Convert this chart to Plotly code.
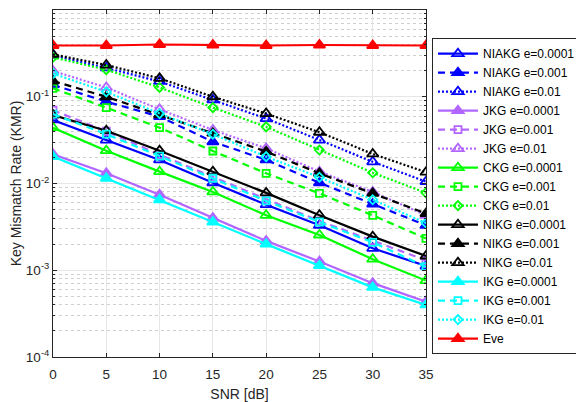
import plotly.graph_objects as go

snr = [0, 5, 10, 15, 20, 25, 30, 35]

niakg_1e4 = [0.054, 0.0317, 0.0187, 0.0102, 0.0057, 0.0033, 0.00179, 0.00112]
niakg_1e3 = [0.137, 0.088, 0.059, 0.0303, 0.0187, 0.0102, 0.0058, 0.0033]
niakg_1e2 = [0.30, 0.215, 0.150, 0.092, 0.056, 0.0317, 0.0178, 0.0105]
jkg_1e4 = [0.0217, 0.0131, 0.0074, 0.0040, 0.00218, 0.00126, 0.00071, 0.000434]
jkg_1e3 = [0.070, 0.040, 0.0215, 0.0118, 0.0066, 0.0037, 0.0022, 0.0013]
jkg_1e2 = [0.198, 0.128, 0.0716, 0.0414, 0.0254, 0.0137, 0.0080, 0.0043]
ckg_1e4 = [0.044, 0.0239, 0.0137, 0.0080, 0.0043, 0.00255, 0.00134, 0.00076]
ckg_1e3 = [0.125, 0.075, 0.044, 0.0237, 0.0131, 0.0077, 0.0043, 0.00233]
ckg_1e2 = [0.285, 0.205, 0.128, 0.075, 0.045, 0.0243, 0.0133, 0.0078]
nikg_1e4 = [0.0615, 0.0406, 0.0239, 0.0137, 0.0078, 0.0043, 0.00244, 0.00146]
nikg_1e3 = [0.152, 0.100, 0.062, 0.038, 0.0233, 0.0131, 0.0077, 0.0045]
nikg_1e2 = [0.308, 0.232, 0.163, 0.100, 0.064, 0.039, 0.0219, 0.0135]
ikg_1e4 = [0.0204, 0.0115, 0.0065, 0.0036, 0.0020, 0.00113, 0.000635, 0.000398]
ikg_1e3 = [0.063, 0.037, 0.0207, 0.0115, 0.0063, 0.0036, 0.0021, 0.0011]
ikg_1e2 = [0.185, 0.114, 0.064, 0.037, 0.0204, 0.0118, 0.0065, 0.0035]
eve = [0.39, 0.39, 0.40, 0.395, 0.39, 0.395, 0.39, 0.39]

BLUE = "#0000FF"
PURPLE = "#B266FF"
GREEN = "#00FF00"
BLACK = "#000000"
CYAN = "#00FFFF"
RED = "#FF0000"

DASH = "7px,5px"
DOT = "2px,2px"

series = [
    ("NIAKG e=0.0001", niakg_1e4, BLUE, "solid", "triangle-up-open"),
    ("NIAKG e=0.001", niakg_1e3, BLUE, DASH, "triangle-up"),
    ("NIAKG e=0.01", niakg_1e2, BLUE, DOT, "triangle-up-open"),
    ("JKG e=0.0001", jkg_1e4, PURPLE, "solid", "triangle-up"),
    ("JKG e=0.001", jkg_1e3, PURPLE, DASH, "square-open"),
    ("JKG e=0.01", jkg_1e2, PURPLE, DOT, "triangle-up-open"),
    ("CKG e=0.0001", ckg_1e4, GREEN, "solid", "triangle-up-open"),
    ("CKG e=0.001", ckg_1e3, GREEN, DASH, "square-open"),
    ("CKG e=0.01", ckg_1e2, GREEN, DOT, "diamond-open"),
    ("NIKG e=0.0001", nikg_1e4, BLACK, "solid", "triangle-up-open"),
    ("NIKG e=0.001", nikg_1e3, BLACK, DASH, "triangle-up"),
    ("NIKG e=0.01", nikg_1e2, BLACK, DOT, "triangle-up-open"),
    ("IKG e=0.0001", ikg_1e4, CYAN, "solid", "triangle-up"),
    ("IKG e=0.001", ikg_1e3, CYAN, DASH, "square-open"),
    ("IKG e=0.01", ikg_1e2, CYAN, DOT, "diamond-open"),
    ("Eve", eve, RED, "solid", "triangle-up"),
]

fig = go.Figure()
for name, vals, col, dash, sym in series:
    size = 10 if "triangle" in sym else 7
    fig.add_trace(go.Scatter(
        x=snr, y=vals, name=name, mode="lines+markers",
        line=dict(color=col, width=2.2, dash=dash),
        marker=dict(symbol=sym, size=size, color=col, line=dict(color=col, width=1.8)),
    ))

yticks = [1e-4, 1e-3, 1e-2, 1e-1, 1]
ytext = ["10<sup>-4</sup>", "10<sup>-3</sup>", "10<sup>-2</sup>", "10<sup>-1</sup>", "10<sup>0</sup>"]
minor_vals = [m * 10 ** e for e in range(-4, 0) for m in range(2, 10)]

# page body has an 8px default margin, so the figure is sized/offset to compensate
fig.update_layout(
    width=576, height=394,
    margin=dict(l=45, r=158, t=2, b=45),
    paper_bgcolor="white", plot_bgcolor="white",
    font=dict(family="Liberation Sans, Arial, sans-serif", size=13.5, color="#262626"),
    showlegend=True,
    legend=dict(
        x=1.016, y=0.919, xanchor="left", yanchor="top",
        bordercolor="#262626", borderwidth=1, bgcolor="white",
        font=dict(size=12, color="#000000"),
        itemwidth=40, tracegroupgap=0,
    ),
    xaxis=dict(
        title=dict(text="SNR [dB]", standoff=8, font=dict(size=14)),
        range=[0, 35], tickvals=snr, ticks="inside", ticklen=4,
        ticklabelstandoff=5,
        tickcolor="#262626", showline=True, linecolor="#262626", linewidth=1,
        mirror="ticks", showgrid=True, gridcolor="#E6E6E6", gridwidth=1,
        zeroline=False, automargin=False,
    ),
    yaxis=dict(
        title=dict(text="Key Mismatch Rate (KMR)", standoff=4, font=dict(size=14)),
        type="log", range=[-4, 0], tickvals=yticks, ticktext=ytext,
        ticks="inside", ticklen=4, tickcolor="#262626",
        showline=True, linecolor="#262626", linewidth=1, mirror="ticks",
        showgrid=True, gridcolor="#E6E6E6", gridwidth=1, zeroline=False,
        automargin=False,
        minor=dict(tickvals=minor_vals, showgrid=True, gridcolor="#CFCFCF",
                   griddash="dot", ticks="inside", ticklen=2, tickcolor="#262626"),
    ),
)

fig.write_html("out.html")
